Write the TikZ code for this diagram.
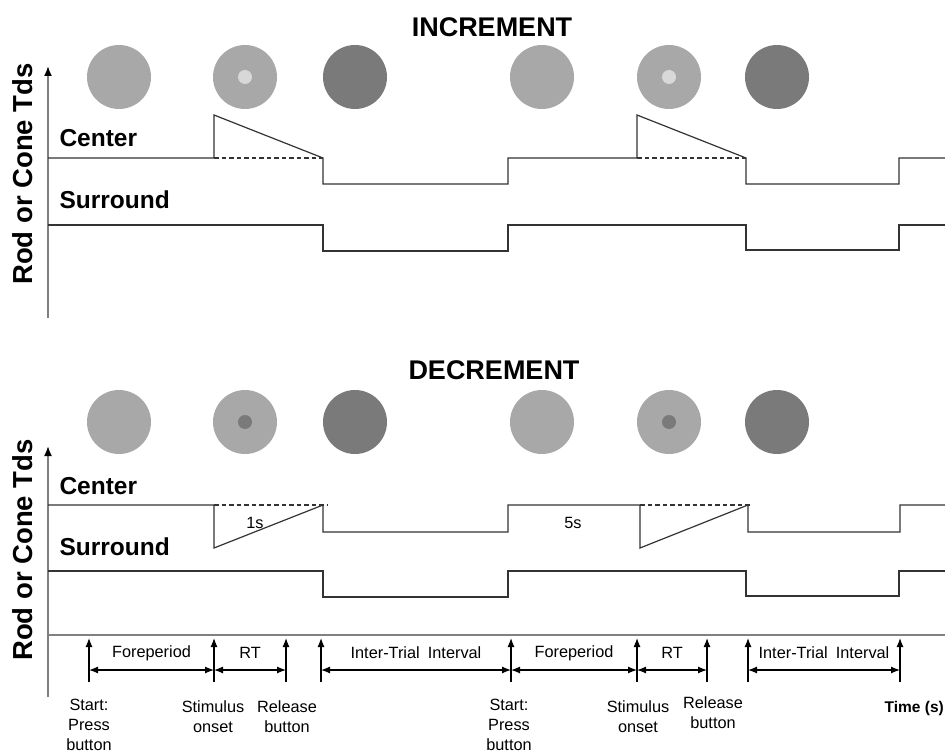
\documentclass[tikz,border=0pt]{standalone}
\usepackage{fontspec}
\setmainfont{Liberation Sans}
\usetikzlibrary{arrows.meta}
\definecolor{discLight}{HTML}{A8A8A8}
\definecolor{discDark}{HTML}{7A7A7A}
\definecolor{dotLight}{HTML}{D8D8D8}
\definecolor{axisGray}{HTML}{808080}
\tikzset{
  trace/.style={line width=1.2pt, draw=black!80},
  dash line/.style={trace, dash pattern=on 4.5pt off 3pt},
  axisline/.style={line width=1.8pt, draw=axisGray},
  yaxis/.style={axisline, -{Latex[length=10pt,width=8pt,color=black]}},
  tick/.style={line width=1.2pt, -{Latex[length=9pt,width=7pt]}},
  span/.style={line width=1.2pt, {Latex[length=9pt,width=7pt]}-{Latex[length=9pt,width=7pt]}},
  title/.style={font=\fontsize{27}{30}\selectfont\bfseries},
  ylab/.style={font=\fontsize{27.5}{30}\selectfont\bfseries, rotate=90},
  sig/.style={font=\fontsize{24.5}{27}\selectfont\bfseries, anchor=west},
  small/.style={font=\fontsize{16.3}{20}\selectfont, align=center, inner sep=1pt}
}
\begin{document}
\begin{tikzpicture}[x=1pt, y=-1pt]
  \useasboundingbox (0,0) rectangle (945,754);

  % INCREMENT
  \node[title] (titInc) at (492,27) {INCREMENT};
  \foreach \x in {119,542} \fill[discLight] (\x,77) circle (32);
  \foreach \x in {245,669} {
    \fill[discLight] (\x,77) circle (32);
    \fill[dotLight] (\x,77) circle (7);
  }
  \foreach \x in {355,777} \fill[discDark] (\x,77) circle (32);

  \draw[yaxis] (48,318) -- (48,66);
  \node[ylab] (ylabInc) at (23,174) {Rod or Cone Tds};
  \node[sig] (cenInc) at (56,138) {Center};
  \node[sig] (surInc) at (56,200) {Surround};

  \draw[trace] (48,158) -- (214,158) -- (214,115) -- (323,158) -- (323,184)
    -- (508,184) -- (508,158) -- (637,158) -- (637,115) -- (746,158)
    -- (746,184) -- (899,184) -- (899,158) -- (945,158);
  \draw[dash line] (214,158) -- (323,158);
  \draw[dash line] (637,158) -- (746,158);
  \draw[trace] (48,225) -- (323,225) -- (323,251) -- (508,251) -- (508,225)
    -- (746,225) -- (746,250) -- (899,250) -- (899,225) -- (945,225);

  % DECREMENT
  \node[title] (titDec) at (494,370) {DECREMENT};
  \foreach \x in {119,542} \fill[discLight] (\x,422) circle (32);
  \foreach \x in {245,669} {
    \fill[discLight] (\x,422) circle (32);
    \fill[discDark] (\x,422) circle (7);
  }
  \foreach \x in {355,777} \fill[discDark] (\x,422) circle (32);

  \draw[yaxis] (48,697) -- (48,446);
  \node[ylab] (ylabDec) at (23,550) {Rod or Cone Tds};
  \node[sig] (cenDec) at (56,486) {Center};
  \node[sig] (surDec) at (56,547) {Surround};

  \draw[trace] (48,505) -- (214,505) -- (214,548) -- (323,505) -- (323,532)
    -- (508,532) -- (508,505) -- (640,505) -- (640,548) -- (748,505)
    -- (748,532) -- (900,532) -- (900,505) -- (945,505);
  \draw[dash line] (214,505) -- (327,505);
  \draw[dash line] (640,505) -- (750,505);
  \draw[trace] (48,571) -- (323,571) -- (323,597) -- (508,597) -- (508,571)
    -- (746,571) -- (746,596) -- (899,596) -- (899,571) -- (945,571);
  \node[small] (oneSec) at (255,523) {1s};
  \node[small] (fiveSec) at (573,523) {5s};

  % time axis
  \draw[axisline] (48,635) -- (945,635);
  \coordinate (start1) at (89,670);
  \coordinate (onset1) at (214,670);
  \coordinate (release1) at (286,670);
  \coordinate (end1) at (321,670);
  \coordinate (start2) at (511,670);
  \coordinate (onset2) at (637,670);
  \coordinate (release2) at (707,670);
  \coordinate (end2) at (748,670);
  \coordinate (start3) at (900,670);
  \foreach \e in {start1,onset1,release1,end1,start2,onset2,release2,end2,start3}
    \draw[tick] ([yshift=-12pt]\e) -- ([yshift=32pt]\e);

  \draw[span] (start1) -- (onset1) node[small, midway, yshift=17pt] (fore1) {Foreperiod};
  \draw[span] (onset1) -- (release1) node[small, midway, yshift=17pt] (rt1) {RT};
  \draw[span] (end1) -- (start2) node[small, midway, yshift=17pt] (iti1) {Inter-Trial\hspace{0.5em}Interval};
  \draw[span] (start2) -- (onset2) node[small, midway, yshift=17pt] (fore2) {Foreperiod};
  \draw[span] (onset2) -- (release2) node[small, midway, yshift=17pt] (rt2) {RT};
  \draw[span] (end2) -- (start3) node[small, midway, yshift=17pt] (iti2) {Inter-Trial\hspace{0.5em}Interval};

  \node[small] (press1) at (89,725) {Start:\\Press\\button};
  \node[small] (stim1) at (213,717) {Stimulus\\onset};
  \node[small] (rel1) at (287,717) {Release\\button};
  \node[small] (press2) at (509,725) {Start:\\Press\\button};
  \node[small] (stim2) at (638,717) {Stimulus\\onset};
  \node[small] (rel2) at (713,713) {Release\\button};
  \node[font=\fontsize{15.5}{18}\selectfont\bfseries, anchor=east, inner sep=1pt] (timeLab) at (945,708) {Time (s)};
\end{tikzpicture}
\end{document}
